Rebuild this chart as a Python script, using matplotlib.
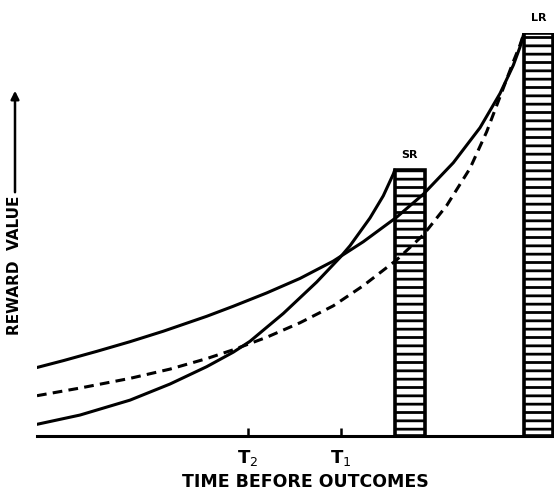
import matplotlib.pyplot as plt

# valores (tempo 0-100, valor 0-100)
bar_names = ['SR', 'LR']
bar_left = [69.2, 94.2]
bar_width = [5.8, 5.6]
bar_height = [66.0, 100.0]

# curva do reforço maior (contínua)
lr_x = [0, 5.09, 11.55, 17.99, 24.43, 32.82, 37.97, 44.43, 50.87, 57.31,
        63.11, 69.57, 74.72, 80.52, 85.69, 89.56, 92.13, 93.42, 94.2]
lr_y = [17.0, 18.7, 21.0, 23.4, 26.0, 29.7, 32.2, 35.5, 39.1, 43.4,
        48.2, 54.3, 60.0, 67.8, 76.5, 85.0, 92.0, 96.5, 100]

# curva do reforço maior (tracejada)
lrd_x = [0, 8.32, 17.99, 25.73, 32.82, 37.97, 44.43, 50.87, 57.31, 63.11,
         69.57, 74.72, 79.25, 83.75, 86.98, 90.19, 92.13, 93.42, 94.2]
lrd_y = [10.0, 11.9, 14.3, 16.6, 19.2, 21.4, 24.5, 28.1, 32.3, 37.3,
         43.7, 49.9, 57.2, 66.4, 75.5, 86.3, 92.9, 97.0, 100]

# curva do reforço menor
sr_x = [0, 8.32, 17.99, 25.73, 32.82, 37.97, 41.2, 47.64, 54.10, 58.61,
        60.54, 64.41, 66.98, 68.92, 69.2]
sr_y = [2.9, 5.2, 8.9, 12.9, 17.2, 20.8, 23.5, 30.4, 38.2, 44.3,
        47.2, 54.1, 59.6, 65.0, 66.0]

tick_pos = [40.8, 58.8]
tick_labels = ['T$_2$', 'T$_1$']

plt.rcParams['mathtext.fontset'] = 'dejavusans'
plt.rcParams['hatch.linewidth'] = 2.0
plt.rcParams['lines.scale_dashes'] = False

fig = plt.figure(figsize=(5.54, 4.92), dpi=100)
ax = fig.add_axes([37/554, 56/492, 517/554, 403/492])

ax.bar(bar_left, bar_height, width=bar_width, align='edge', color='white',
       edgecolor='black', linewidth=2.6, hatch='--', zorder=1)
for nome, xl, w, h in zip(bar_names, bar_left, bar_width, bar_height):
    ax.text(xl + w / 2, h + 2.5, nome, ha='center', va='bottom', fontsize=8,
            fontweight='bold', clip_on=False)

ax.plot(lr_x, lr_y, color='black', lw=2.2, solid_capstyle='round',
        solid_joinstyle='round', zorder=3)
ax.plot(lrd_x, lrd_y, color='black', lw=2.2, dashes=(7, 4.5), zorder=3)
ax.plot(sr_x, sr_y, color='black', lw=2.2, solid_capstyle='round',
        solid_joinstyle='round', zorder=3)

ax.set_xlim(0, 100)
ax.set_ylim(0, 100)
for s in ['top', 'right', 'left']:
    ax.spines[s].set_visible(False)
ax.spines['bottom'].set_linewidth(2.2)
ax.set_yticks([])
ax.set_xticks(tick_pos)
ax.set_xticklabels(tick_labels, fontsize=13, fontweight='bold')
ax.tick_params(axis='x', direction='in', length=6, width=1.8, pad=9)
ax.set_xlabel('TIME BEFORE OUTCOMES', fontsize=12.5, fontweight='bold',
              x=(305 - 37) / 517, labelpad=3)

fig.text(15/554, 1 - 265/492, 'REWARD  VALUE', rotation=90, ha='center',
         va='center', fontsize=11, fontweight='bold')
ax.annotate('', xy=(15/554, 1 - 88/492), xytext=(15/554, 1 - 195/492),
            xycoords='figure fraction', textcoords='figure fraction',
            arrowprops=dict(arrowstyle='-|>', color='black', lw=1.8,
                            mutation_scale=12))

plt.savefig('out.png', dpi=100)
